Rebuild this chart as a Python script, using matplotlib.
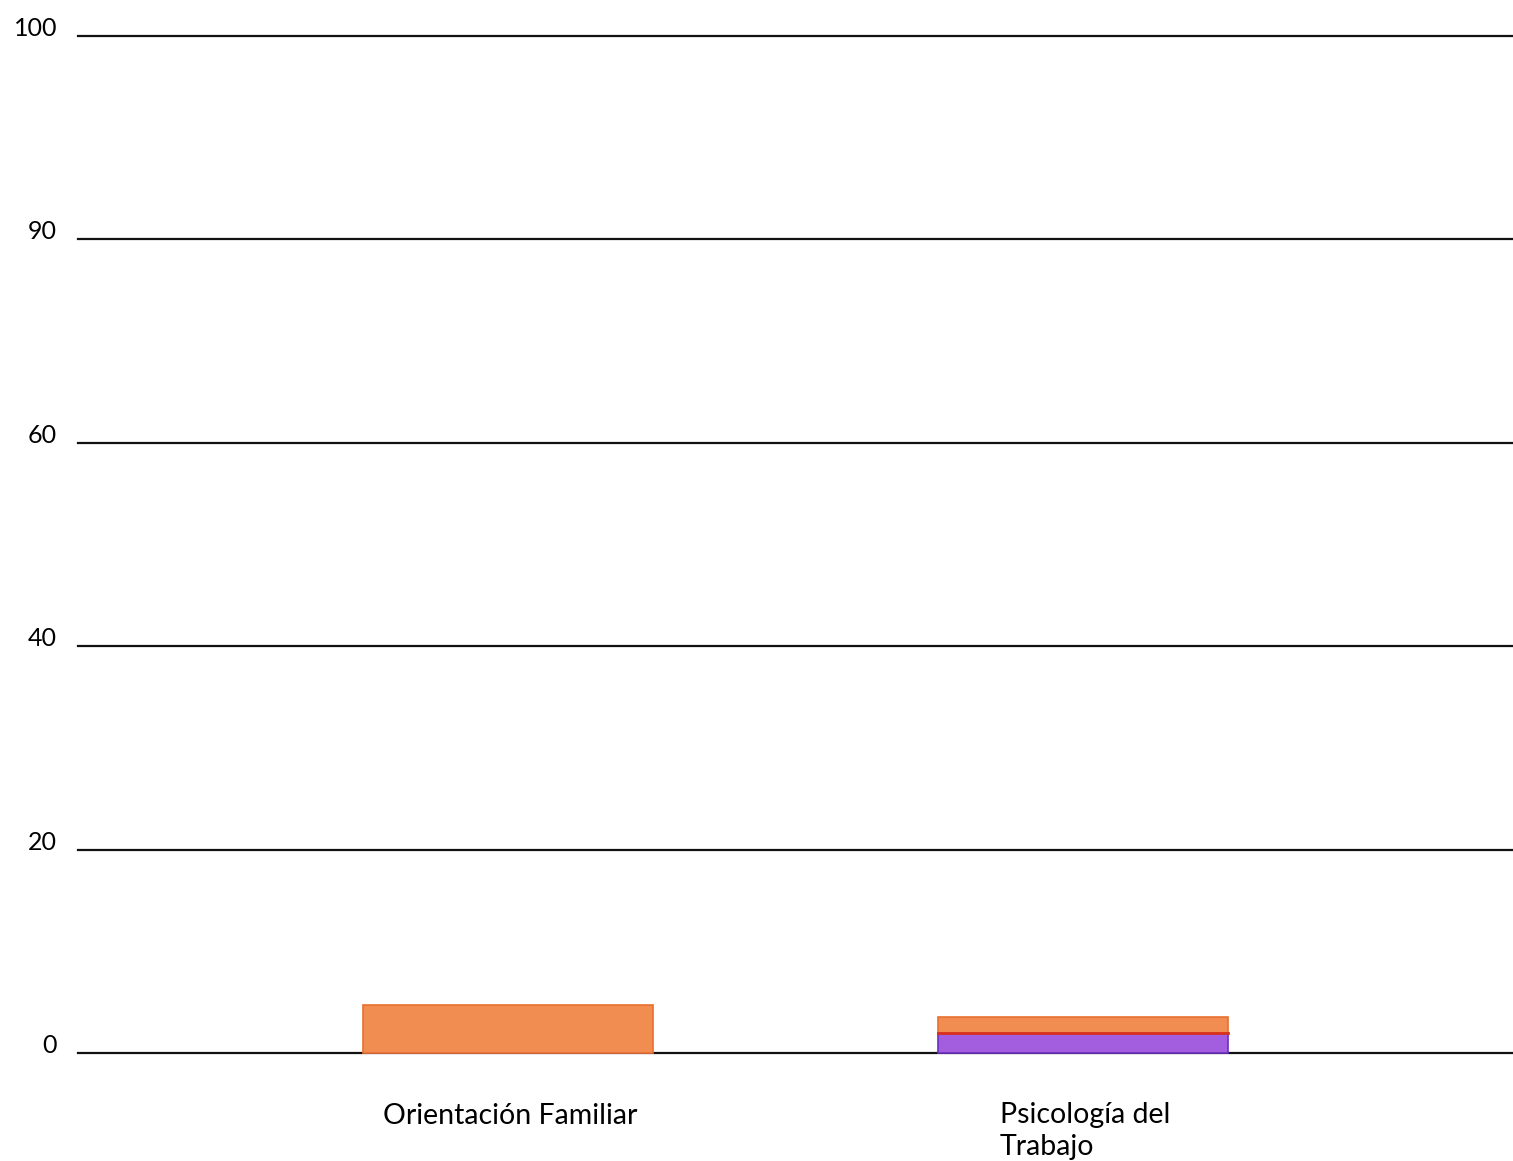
import numpy as np
import matplotlib.pyplot as plt

categorias = ["Orientación Familiar", "Psicología del\nTrabajo"]
serie_morada = [0.0, 2.0]
serie_naranja = [4.7, 1.5]
ticks = [0, 20, 40, 60, 80, 100]
tick_labels = ["0", "20", "40", "60", "90", "100"]

plt.rcParams['font.family'] = ['Lato', 'DejaVu Sans']

fig = plt.figure(figsize=(15.13, 11.61), dpi=100)
ax = fig.add_axes([78/1513, 1 - 1053/1161, 1 - 78/1513, (1053 - 36)/1161])

x = np.arange(len(categorias))
ancho = 0.505

ax.bar(x, serie_morada, ancho, color='#a35ee0', edgecolor='#6a2fc0', linewidth=1.2, clip_on=False, zorder=3)
ax.bar(x, serie_naranja, ancho, bottom=serie_morada, color='#f28d52', edgecolor='#e8702e',
       linewidth=1.2, clip_on=False, zorder=3)
# linea roja entre los dos tramos
for xi, m, n in zip(x, serie_morada, serie_naranja):
    if m > 0 and n > 0:
        ax.plot([xi - ancho/2, xi + ancho/2], [m, m], color='#d8301c', lw=2, zorder=4, clip_on=False)

for t in ticks:
    ax.axhline(t, color='#111111', lw=1.6, zorder=2, clip_on=False)

ax.set_xlim(-0.748, 1.748)
ax.set_ylim(0, 100)
ax.set_yticks(ticks)
ax.set_yticklabels(tick_labels, fontsize=18, va='baseline')
ax.tick_params(axis='y', length=0, pad=15)
ax.set_xticks([])
for s in ax.spines.values():
    s.set_visible(False)

ax.text(x[0] + 0.003, -6.2, categorias[0], fontsize=20.5, ha='center', va='center')
ax.text(x[1] - 0.145, -4.8, categorias[1], fontsize=20.5, ha='left', va='top', linespacing=1.3)

fig.savefig("out.png", dpi=100)
